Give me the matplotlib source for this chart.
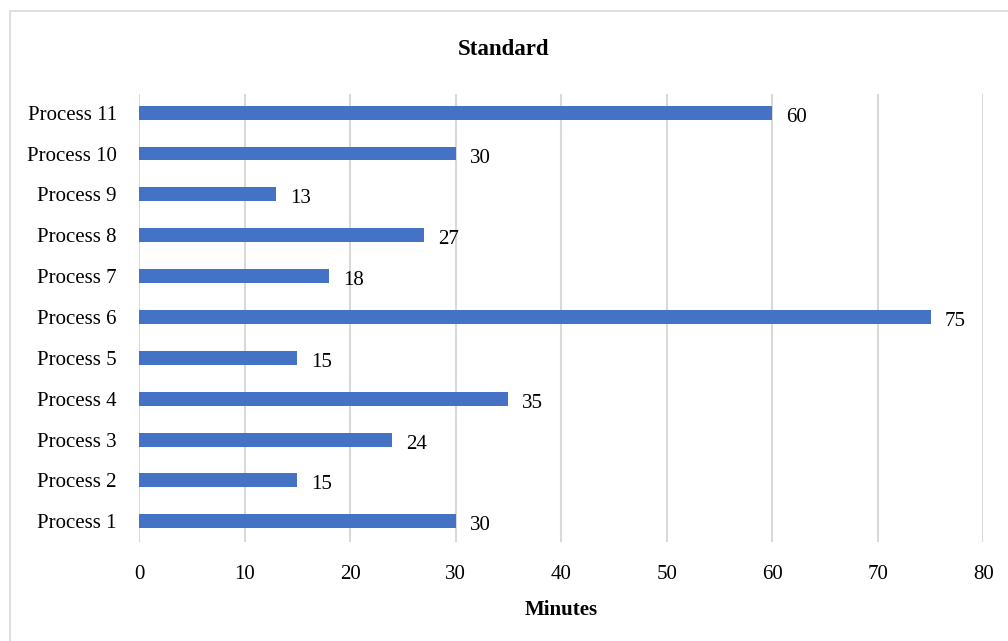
import matplotlib
matplotlib.use("Agg")
import matplotlib.pyplot as plt
import numpy as np
from matplotlib.patches import Rectangle

# values
processes = ['Process 1', 'Process 2', 'Process 3', 'Process 4', 'Process 5', 'Process 6',
             'Process 7', 'Process 8', 'Process 9', 'Process 10', 'Process 11']
minutes = [30, 15, 24, 35, 15, 75, 18, 27, 13, 30, 60]
x_ticks = [0, 10, 20, 30, 40, 50, 60, 70, 80]

plt.rcParams['font.family'] = ['Liberation Serif', 'DejaVu Serif']

bar_colour = '#4472C4'
grid_colour = '#D9D9D9'

fig = plt.figure(figsize=(10.08, 6.41), dpi=100)
ax = fig.add_axes([0.1379, 0.1549, 0.8376, 0.698])

# light frame round the whole chart, as in the source
fig.patches.append(Rectangle((10 / 1008, -0.05), 1.1, 1 - 11 / 641 + 0.05,
                             transform=fig.transFigure, fill=False,
                             edgecolor=grid_colour, linewidth=1.2))

y_pos = np.arange(len(processes))
bars = ax.barh(y_pos, minutes, height=0.34, color=bar_colour, zorder=3)

for bar, val in zip(bars, minutes):
    ax.annotate(str(val), (bar.get_width(), bar.get_y() + bar.get_height() / 2),
                xytext=(14, -2), textcoords='offset pixels',
                va='center_baseline', ha='left', fontsize=15, color='#000000')

ax.set_xlim(0, 80)
ax.set_ylim(-0.5, 10.45)
ax.set_xticks(x_ticks)
ax.set_yticks(y_pos)
ax.set_yticklabels(processes, va='center_baseline')
ax.tick_params(axis='both', length=0, labelsize=15, colors='#000000')
ax.tick_params(axis='x', pad=17)
ax.tick_params(axis='y', pad=16)

ax.grid(axis='x', color=grid_colour, linewidth=1.5, zorder=0)
for s in ax.spines.values():
    s.set_visible(False)

ax.set_xlabel('Minutes', fontsize=15, fontweight='bold', labelpad=11)
fig.text(0.5, 1 - 47 / 641, 'Standard', ha='center', va='center_baseline',
         fontsize=16.5, fontweight='bold')

fig.savefig('out.png', dpi=100)
